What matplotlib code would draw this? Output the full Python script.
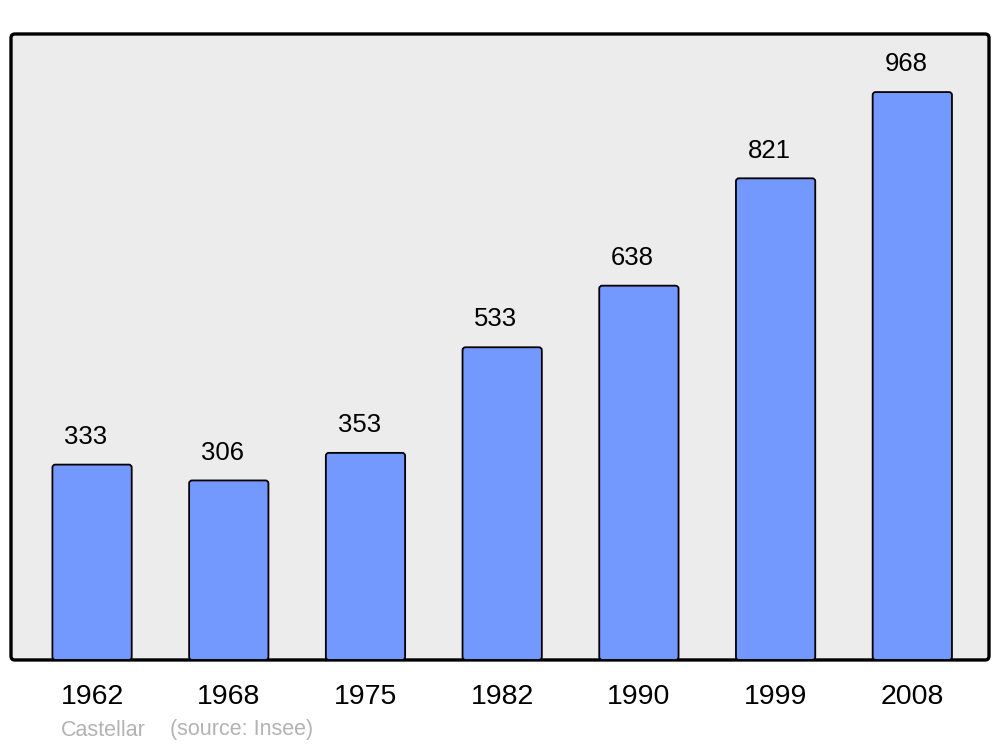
import matplotlib
matplotlib.use("Agg")
import matplotlib.pyplot as plt
from matplotlib.patches import FancyBboxPatch

years = ["1962", "1968", "1975", "1982", "1990", "1999", "2008"]
population = [333, 306, 353, 533, 638, 821, 968]
commune = "Castellar"
source = "(source: Insee)"

BAR_COLOR = "#7399ff"
BG = "#ececec"

plt.rcParams["font.family"] = ["Liberation Sans", "DejaVu Sans"]

fig = plt.figure(figsize=(10, 7.47), dpi=100)
ax = fig.add_axes([0.011, 0.1165, 0.978, 0.838])
ax.set_facecolor("none")

x = list(range(len(years)))
ax.set_xlim(-0.593, 6.561)
ax.set_ylim(0, 1067)

# frame with rounded corners (axes coords)
ax_w, ax_h = 978, 626
frame = FancyBboxPatch((0, 0), 1, 1, boxstyle="round,pad=0,rounding_size=0.004",
                       transform=ax.transAxes, facecolor=BG, edgecolor="black",
                       linewidth=2.4, mutation_aspect=ax_w / ax_h, zorder=0,
                       clip_on=False)
ax.add_patch(frame)
for s in ax.spines.values():
    s.set_visible(False)

bars = ax.bar(x, population, width=0.58, color="none", edgecolor="none")
# rounded-corner bars from the bar geometry
px_per_x = ax_w / (6.561 + 0.593)
px_per_y = ax_h / 1067
r = 3 / px_per_x
for b in bars:
    p = FancyBboxPatch((b.get_x(), b.get_y()), b.get_width(), b.get_height(),
                       boxstyle=f"round,pad=0,rounding_size={r}",
                       mutation_aspect=px_per_x / px_per_y,
                       facecolor=BAR_COLOR, edgecolor="black", linewidth=1.3,
                       zorder=2)
    ax.add_patch(p)

for xi, v in zip(x, population):
    ax.annotate(str(v), (xi, v), xytext=(-4.5, 20), textcoords="offset points",
                ha="center", va="center", fontsize=18.5)

ax.set_xticks(x)
ax.set_xticklabels(years, fontsize=20.5)
ax.tick_params(axis="x", length=0, pad=17.5)
ax.set_yticks([])

fig.text(0.061, 1 - 730 / 747, commune, fontsize=15.5, color="#b3b3b3", va="center")
fig.text(0.170, 1 - 730 / 747, source, fontsize=15.5, color="#b3b3b3", va="center")

fig.savefig("out.png", dpi=100)
